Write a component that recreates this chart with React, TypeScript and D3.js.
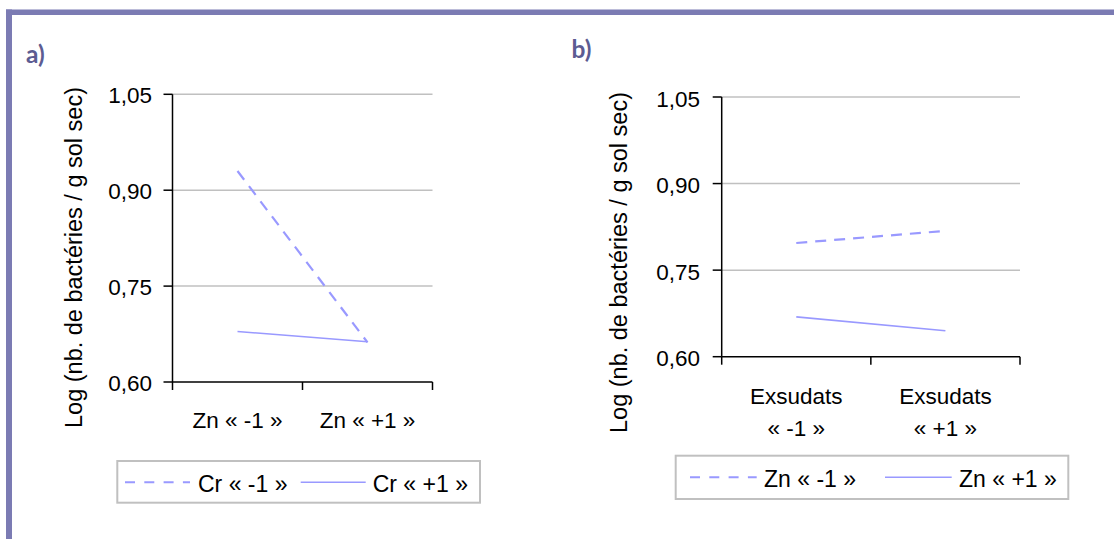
import React from "react";
import * as d3 from "d3";

const yTicks = [0.6, 0.75, 0.9, 1.05];
const yTickLabels = ["0,60", "0,75", "0,90", "1,05"];

const catsA = ["Zn « -1 »", "Zn « +1 »"];
const seriesA = [
  { name: "Cr « -1 »", dashed: true, values: [0.93, 0.662] },
  { name: "Cr « +1 »", dashed: false, values: [0.679, 0.663] },
];

const catsB = [["Exsudats", "« -1 »"], ["Exsudats", "« +1 »"]];
const seriesB = [
  { name: "Zn « -1 »", dashed: true, values: [0.797, 0.818] },
  { name: "Zn « +1 »", dashed: false, values: [0.669, 0.645] },
];

const yTitle = "Log (nb. de bactéries / g sol sec)";

const LINE = "#9999ff";
const GRID = "#c0c0c0";
const FONT = "'Liberation Sans', Arial, sans-serif";

type Panel = {
  label: string;
  labelX: number;
  labelY: number;
  x0: number;
  x1: number;
  yTop: number;
  yBot: number;
  titleX: number;
  titleY: number;
  tickRight: number;
  tickDy: number;
  cats: string[][];
  xLabelDy: number;
  series: { name: string; dashed: boolean; values: number[] }[];
  legend: { x: number; y: number; w: number; h: number; lineY: number; textY: number; items: { ls: number; le: number; tx: number }[] };
};

const panels: Panel[] = [
  {
    label: "a)",
    labelX: 26,
    labelY: 62.5,
    x0: 172.5,
    x1: 432.5,
    yTop: 94.3,
    yBot: 382,
    titleX: 82,
    titleY: 257.5,
    tickRight: 152,
    tickDy: 9,
    cats: catsA.map((c) => [c]),
    xLabelDy: 46,
    series: seriesA,
    legend: {
      x: 117.3, y: 461, w: 362.7, h: 41.7, lineY: 482.3, textY: 491.5,
      items: [{ ls: 125, le: 190, tx: 198 }, { ls: 300.7, le: 365.7, tx: 372.7 }],
    },
  },
  {
    label: "b)",
    labelX: 571.5,
    labelY: 57.5,
    x0: 721.7,
    x1: 1020,
    yTop: 97,
    yBot: 356.7,
    titleX: 626.7,
    titleY: 262.5,
    tickRight: 700,
    tickDy: 9.5,
    cats: catsB,
    xLabelDy: 47.5,
    series: seriesB,
    legend: {
      x: 675.7, y: 455.7, w: 392.6, h: 43.3, lineY: 477.3, textY: 486.5,
      items: [{ ls: 690, le: 756.7, tx: 764 }, { ls: 885, le: 951.7, tx: 959 }],
    },
  },
];

function PanelView({ p }: { p: Panel }) {
  const y = d3.scaleLinear().domain([0.6, 1.05]).range([p.yBot, p.yTop]);
  const names = p.cats.map((c) => c.join(" "));
  const x = d3.scaleBand<string>().domain(names).range([p.x0, p.x1]).padding(0);
  const cx = (i: number) => (x(names[i]) as number) + x.bandwidth() / 2;
  const line = d3
    .line<number>()
    .x((_, i) => cx(i))
    .y((v) => y(v));
  const bounds = [p.x0, ...names.map((n) => (x(n) as number) + x.bandwidth())];
  return (
    <g>
      <text x={p.labelX} y={p.labelY} fill="#5c5c92" fontFamily="Lato, 'Open Sans', sans-serif" fontWeight="bold" fontSize={24.5}>
        {p.label}
      </text>
      {yTicks.slice(1).map((t) => (
        <line key={t} x1={p.x0} x2={p.x1} y1={y(t)} y2={y(t)} stroke={GRID} strokeWidth={1.5} />
      ))}
      <line x1={p.x0} x2={p.x0} y1={p.yTop} y2={p.yBot} stroke="#000" strokeWidth={1.5} />
      <line x1={p.x0} x2={p.x1} y1={p.yBot} y2={p.yBot} stroke="#000" strokeWidth={1.5} />
      {yTicks.map((t, i) => (
        <g key={t}>
          <line x1={p.x0 - 9} x2={p.x0} y1={y(t)} y2={y(t)} stroke="#000" strokeWidth={1.5} />
          <text x={p.tickRight} y={y(t) + p.tickDy} textAnchor="end" fontFamily={FONT} fontSize={22.5} fill="#000">
            {yTickLabels[i]}
          </text>
        </g>
      ))}
      {bounds.map((b, i) => (
        <line key={i} x1={b} x2={b} y1={p.yBot} y2={p.yBot + 8} stroke="#000" strokeWidth={1.5} />
      ))}
      {p.cats.map((c, i) => (
        <text key={i} x={cx(i)} y={p.yBot + p.xLabelDy} textAnchor="middle" fontFamily={FONT} fontSize={22.5} fill="#000">
          {c.map((s, j) => (
            <tspan key={j} x={cx(i)} dy={j === 0 ? 0 : 31.7}>
              {s}
            </tspan>
          ))}
        </text>
      ))}
      <text
        transform={`translate(${p.titleX},${p.titleY}) rotate(-90)`}
        textAnchor="middle"
        fontFamily={FONT}
        fontSize={23.5}
        fill="#000"
      >
        {yTitle}
      </text>
      {p.series.map((s) => (
        <path
          key={s.name}
          d={line(s.values) as string}
          fill="none"
          stroke={LINE}
          strokeWidth={s.dashed ? 2.2 : 1.6}
          strokeDasharray={s.dashed ? "11 8" : undefined}
        />
      ))}
      <rect x={p.legend.x} y={p.legend.y} width={p.legend.w} height={p.legend.h} fill="#fff" stroke={GRID} strokeWidth={2} />
      {p.series.map((s, i) => {
        const it = p.legend.items[i];
        return (
          <g key={s.name}>
            <line
              x1={it.ls}
              x2={it.le}
              y1={p.legend.lineY}
              y2={p.legend.lineY}
              stroke={LINE}
              strokeWidth={s.dashed ? 2 : 1.6}
              strokeDasharray={s.dashed ? "10 9.3" : undefined}
            />
            <text x={it.tx} y={p.legend.textY} fontFamily={FONT} fontSize={23} fill="#000">
              {s.name}
            </text>
          </g>
        );
      })}
    </g>
  );
}

export default function App() {
  return (
    <svg
      width={1114}
      height={539}
      viewBox="0 0 1114 539"
      style={{ position: "absolute", left: 0, top: 0, background: "#fff" }}
    >
      <rect x={0} y={0} width={1114} height={539} fill="#fff" />
      <rect x={6} y={9.5} width={1108} height={5.5} fill="#7b7bb3" />
      <rect x={6} y={9.5} width={6} height={529.5} fill="#7b7bb3" />
      {panels.map((p) => (
        <PanelView key={p.label} p={p} />
      ))}
    </svg>
  );
}
